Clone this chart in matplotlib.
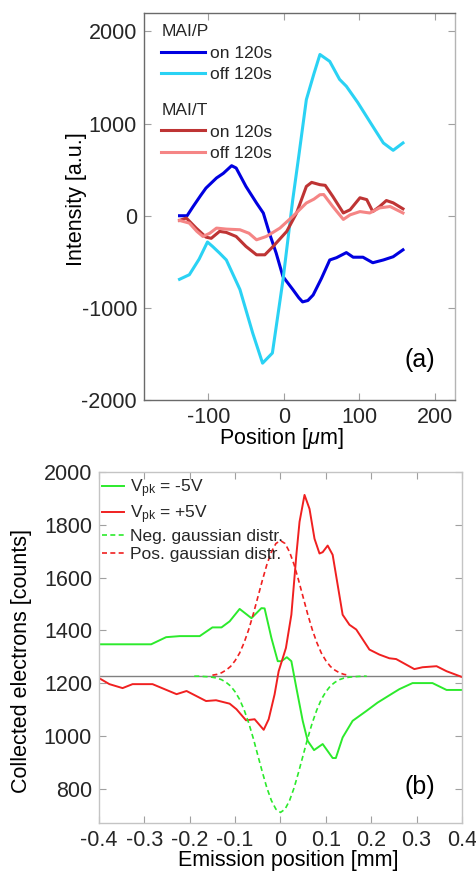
import numpy as np
import matplotlib
matplotlib.use('Agg')
import matplotlib.pyplot as plt

plt.rcParams['font.family'] = ['Liberation Sans', 'DejaVu Sans']
plt.rcParams['mathtext.fontset'] = 'custom'
plt.rcParams['mathtext.rm'] = 'Liberation Sans'
plt.rcParams['mathtext.it'] = 'Liberation Sans:italic'
plt.rcParams['text.color'] = '#262626'
plt.rcParams['axes.unicode_minus'] = False

# ---- panel (a): intensity vs position ----
x_on_p = [-138, -128, -120, -110, -103, -89, -80, -69, -63, -50, -36, -27, -19, -10, -1,
          12, 20, 25, 32, 39, 50, 61, 70, 83, 92, 105, 118, 132, 145, 158]
y_on_p = [0, 0, 100, 220, 300, 410, 460, 543, 518, 318, 138, 29, -188, -405, -660,
          -800, -890, -935, -920, -860, -680, -480, -455, -400, -450, -450, -510, -480, -445, -370]

x_off_p = [-138, -125, -112, -101, -94, -85, -76, -58, -41, -28, -15, -1, 12, 20, 30, 40,
           48, 61, 74, 83, 98, 118, 132, 145, 158]
y_off_p = [-690, -640, -470, -285, -335, -405, -480, -800, -1275, -1600, -1490, -700, 175,
           650, 1260, 1540, 1750, 1675, 1480, 1405, 1230, 970, 790, 710, 790]

x_on_t = [-138, -129, -116, -103, -96, -85, -76, -63, -50, -36, -25, -14, 4, 17, 30, 37, 48,
          55, 65, 79, 88, 101, 110, 118, 127, 136, 145, 158]
y_on_t = [-51, -25, -134, -232, -245, -170, -181, -225, -333, -424, -424, -333, -170, 29, 318,
          362, 337, 330, 210, 30, 65, 195, 175, 45, 100, 165, 140, 75]

x_off_t = [-138, -125, -115, -107, -98, -89, -76, -58, -46, -36, -23, -5, 12, 30, 40, 48, 53,
           65, 79, 88, 101, 114, 127, 141, 158]
y_off_t = [-51, -80, -170, -225, -190, -134, -145, -152, -190, -261, -225, -134, -7, 138, 180,
           228, 230, 100, -40, 10, 45, 30, 85, 100, 30]

# ---- panel (b): collected electrons vs emission position ----
x_neg = [-0.4, -0.285, -0.252, -0.222, -0.178, -0.15, -0.13, -0.112, -0.09, -0.064, -0.042,
         -0.035, -0.02, -0.006, 0.002, 0.014, 0.024, 0.035, 0.049, 0.06, 0.074, 0.093, 0.115,
         0.122, 0.137, 0.159, 0.189, 0.214, 0.244, 0.262, 0.291, 0.335, 0.366, 0.4]
y_neg = [1347, 1347, 1374, 1378, 1378, 1411, 1411, 1434, 1481, 1446, 1484, 1483, 1371, 1283,
         1283, 1298, 1283, 1182, 1057, 981, 946, 969, 916, 916, 994, 1057, 1094, 1126, 1158,
         1177, 1200, 1200, 1174, 1174]

x_pos = [-0.4, -0.377, -0.348, -0.326, -0.282, -0.229, -0.207, -0.164, -0.142, -0.112, -0.097,
         -0.076, -0.057, -0.037, -0.026, -0.013, -0.004, 0.012, 0.024, 0.035, 0.042, 0.053,
         0.064, 0.075, 0.086, 0.093, 0.104, 0.115, 0.137, 0.152, 0.167, 0.196, 0.218, 0.24,
         0.255, 0.295, 0.313, 0.344, 0.366, 0.4]
y_pos = [1219, 1196, 1181, 1196, 1196, 1158, 1170, 1132, 1135, 1122, 1101, 1059, 1063, 1023,
         1063, 1157, 1245, 1333, 1459, 1686, 1811, 1913, 1860, 1747, 1691, 1696, 1721, 1686,
         1459, 1421, 1403, 1327, 1308, 1294, 1291, 1253, 1260, 1264, 1245, 1223]

x_gauss_neg = np.linspace(-0.19, 0.19, 39)
y_gauss_neg = [1226, 1226, 1225, 1224, 1222, 1219, 1213, 1203, 1189, 1167, 1138, 1098, 1049,
               991, 927, 863, 803, 755, 722, 710, 722, 755, 803, 863, 927, 991, 1049, 1098,
               1138, 1167, 1189, 1203, 1213, 1219, 1222, 1224, 1225, 1226, 1226]
x_gauss_pos = np.linspace(-0.15, 0.15, 31)
y_gauss_pos = [1230, 1233, 1239, 1249, 1263, 1285, 1314, 1354, 1403, 1461, 1525, 1589, 1649,
               1697, 1729, 1740, 1729, 1697, 1649, 1589, 1525, 1461, 1403, 1354, 1314, 1285,
               1263, 1249, 1239, 1233, 1230]
baseline = 1226

fig = plt.figure(figsize=(4.77, 8.74), dpi=100)

# panel (a)
ax1 = fig.add_axes([0.302, 0.5423, 0.652, 0.4428])
l1, = ax1.plot(x_on_p, y_on_p, color='#0000e0', lw=2.2)
l2, = ax1.plot(x_off_p, y_off_p, color='#2ad2f4', lw=2.2)
l3, = ax1.plot(x_on_t, y_on_t, color='#be3434', lw=2.2)
l4, = ax1.plot(x_off_t, y_off_t, color='#f58585', lw=2.2)
ax1.set_xlim(-185, 227)
ax1.set_ylim(-2000, 2200)
ax1.set_xticks([-100, 0, 100, 200])
ax1.set_yticks([-2000, -1000, 0, 1000, 2000])
ax1.set_xlabel(r'Position [$\mu$m]', fontsize=15.5)
ax1.set_ylabel('Intensity [a.u.]', fontsize=15.5)
ax1.xaxis.set_label_coords(0.44, -0.068)
ax1.yaxis.set_label_coords(-0.185, 0.52)
ax1.text(0.887, 0.103, '(a)', transform=ax1.transAxes, fontsize=18,
         ha='center', va='center', color='black')

leg1 = ax1.legend([l1, l2], ['on 120s', 'off 120s'], title='MAI/P', loc='upper left',
                  bbox_to_anchor=(0.055, 0.972), frameon=False, fontsize=12.5,
                  title_fontsize=12.5, alignment='left', handlelength=2.5,
                  handletextpad=0.3, labelspacing=0.38, borderpad=0, borderaxespad=0)
ax1.add_artist(leg1)
ax1.legend([l3, l4], ['on 120s', 'off 120s'], title='MAI/T', loc='upper left',
           bbox_to_anchor=(0.055, 0.768), frameon=False, fontsize=12.5,
           title_fontsize=12.5, alignment='left', handlelength=2.5,
           handletextpad=0.3, labelspacing=0.38, borderpad=0, borderaxespad=0)

# panel (b)
ax2 = fig.add_axes([0.2075, 0.0584, 0.761, 0.4016])
ax2.axhline(baseline, color='#808080', lw=1.0)
g1, = ax2.plot(x_neg, y_neg, color='#2cea2c', lw=1.4)
r1, = ax2.plot(x_pos, y_pos, color='#f02020', lw=1.4)
g2, = ax2.plot(x_gauss_neg, y_gauss_neg, color='#2cea2c', lw=1.2, ls=(0, (3, 2)))
r2, = ax2.plot(x_gauss_pos, y_gauss_pos, color='#f02020', lw=1.2, ls=(0, (3, 2)))
ax2.set_xlim(-0.4, 0.4)
ax2.set_ylim(670, 2000)
ax2.set_xticks([-0.4, -0.3, -0.2, -0.1, 0, 0.1, 0.2, 0.3, 0.4])
ax2.set_xticklabels(['-0.4', '-0.3', '-0.2', '-0.1', '0', '0.1', '0.2', '0.3', '0.4'])
ax2.set_yticks([800, 1000, 1200, 1400, 1600, 1800, 2000])
ax2.set_xlabel('Emission position [mm]', fontsize=15.5)
ax2.set_ylabel('Collected electrons [counts]', fontsize=15.5)
ax2.xaxis.set_label_coords(0.522, -0.078)
ax2.yaxis.set_label_coords(-0.185, 0.46)
ax2.text(0.884, 0.103, '(b)', transform=ax2.transAxes, fontsize=18,
         ha='center', va='center', color='black')
ax2.legend([g1, r1, g2, r2],
           [r'V$_{\rm pk}$ = -5V', r'V$_{\rm pk}$ = +5V',
            'Neg. gaussian distr.', 'Pos. gaussian distr.'],
           loc='upper left', bbox_to_anchor=(0.008, 0.985), frameon=False, fontsize=12.5,
           handlelength=1.3, handletextpad=0.3, labelspacing=0.18, borderpad=0,
           borderaxespad=0)

for ax, spc in ((ax1, '#6a6a6a'), (ax2, '#c4c4c4')):
    ax.tick_params(direction='in', top=True, right=True, length=5, width=0.8,
                   colors='#a0a0a0', labelcolor='#262626', labelsize=15.5, pad=5)
    for s in ax.spines.values():
        s.set_color(spc)
        s.set_linewidth(1.0)
ax1.spines['right'].set_color('#b4b4b4')

fig.savefig('out.png', dpi=100)
